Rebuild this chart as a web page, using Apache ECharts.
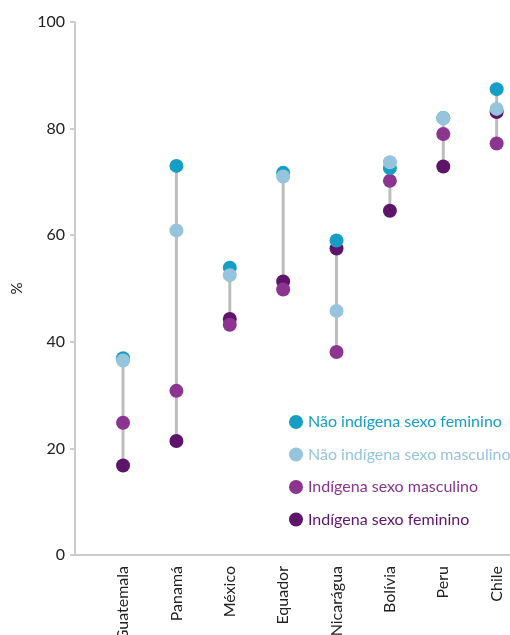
<!DOCTYPE html>
<html>
<head>
<meta charset="utf-8">
<script src="https://cdn.jsdelivr.net/npm/echarts@6/dist/echarts.min.js"></script>
<style>html,body{margin:0;padding:0;background:#fff}#c{width:510px;height:635px}</style>
</head>
<body>
<div id="c"></div>
<script>
const categories = ['Guatemala','Panamá','México','Equador','Nicarágua','Bolívia','Peru','Chile'];
const naoIndFem = [36.9, 73.0, 53.9, 71.7, 59.0, 72.6, 82.0, 87.4];
const naoIndMasc = [36.5, 60.9, 52.5, 71.0, 45.8, 73.7, 82.0, 83.7];
const indMasc = [24.8, 30.8, 43.2, 49.8, 38.1, 70.2, 79.0, 77.2];
const indFem = [16.8, 21.4, 44.3, 51.3, 57.5, 64.6, 72.9, 83.1];
const yTicks = [0, 20, 40, 60, 80, 100];

const names = ['Não indígena sexo feminino','Não indígena sexo masculino','Indígena sexo masculino','Indígena sexo feminino'];
const colors = ['#169ec4','#95c4dc','#8b3591','#5f146b'];
const seriesVals = [naoIndFem, naoIndMasc, indMasc, indFem];

const ranges = categories.map((c, i) => {
  const vs = seriesVals.map(s => s[i]);
  return [i + 1, Math.min(...vs), Math.max(...vs)];
});

const font = 'Lato, "Noto Sans", sans-serif';
const chart = echarts.init(document.getElementById('c'));

const drawOrder = [3, 2, 0, 1];
const scatterSeries = drawOrder.map(k => ({
  name: names[k],
  type: 'scatter',
  symbol: 'circle',
  symbolSize: 14,
  itemStyle: { color: colors[k], opacity: 1 },
  data: seriesVals[k].map((v, i) => [i + 1, v]),
  z: 3 + drawOrder.indexOf(k)
}));

chart.setOption({
  animation: false,
  grid: { left: 75, right: 0, top: 22, bottom: 80, containLabel: false, outerBoundsMode: 'none' },
  xAxis: {
    type: 'value',
    min: 0.1,
    max: 8.25,
    splitLine: { show: false },
    axisLine: { show: true, lineStyle: { color: '#cccccc', width: 2 } },
    axisTick: { show: false },
    axisLabel: {
      customValues: categories.map((c, i) => i + 1),
      formatter: v => categories[Math.round(v) - 1] || '',
      rotate: 90,
      margin: 11,
      fontSize: 16,
      color: '#222',
      fontFamily: font
    }
  },
  yAxis: {
    type: 'value',
    min: yTicks[0],
    max: yTicks[yTicks.length - 1],
    interval: 20,
    name: '%',
    nameLocation: 'middle',
    nameGap: 50,
    nameRotate: 90,
    nameTextStyle: { fontSize: 15, color: '#222', fontFamily: font },
    splitLine: { show: false },
    axisLine: { show: true, lineStyle: { color: '#cccccc', width: 2 } },
    axisTick: { show: true, length: 5, lineStyle: { color: '#cccccc', width: 2 } },
    axisLabel: { fontSize: 16, color: '#222', margin: 10, fontFamily: font }
  },
  legend: {
    orient: 'vertical',
    left: 284,
    top: 409,
    itemGap: 16.5,
    itemWidth: 14,
    itemHeight: 14,
    icon: 'circle',
    textStyle: { fontSize: 16, fontFamily: font },
    data: names.map((n, k) => ({ name: n, textStyle: { color: colors[k] } }))
  },
  series: [{
    type: 'custom',
    data: ranges,
    encode: { x: 0, y: [1, 2] },
    z: 1,
    silent: true,
    renderItem: (params, api) => {
      const x = api.value(0);
      const p1 = api.coord([x, api.value(1)]);
      const p2 = api.coord([x, api.value(2)]);
      return { type: 'line', shape: { x1: p1[0], y1: p1[1], x2: p2[0], y2: p2[1] }, style: { stroke: '#bdbdbd', lineWidth: 3 } };
    }
  }].concat(scatterSeries)
});
</script>
</body>
</html>
